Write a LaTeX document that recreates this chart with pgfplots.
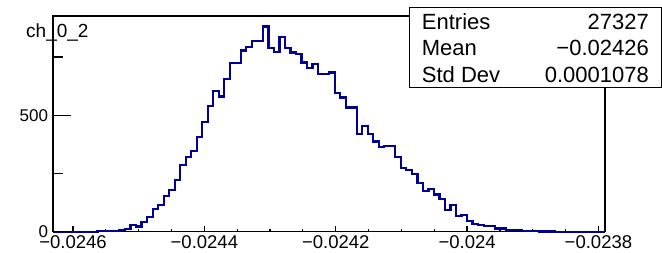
\documentclass[border=0pt]{standalone}
\usepackage{fontspec}
\setmainfont{Liberation Sans}
\usepackage{pgfplots}
\pgfplotsset{compat=1.18}
\definecolor{histblue}{RGB}{0,0,153}
\pgfplotstableread{
x count
-0.0246300 0
-0.0246216 0
-0.0246132 0
-0.0246048 0
-0.0245964 0
-0.0245880 0
-0.0245796 0
-0.0245712 0
-0.0245628 2
-0.0245544 3
-0.0245460 3
-0.0245376 4
-0.0245292 8
-0.0245208 10
-0.0245124 29
-0.0245040 22
-0.0244956 40
-0.0244872 64
-0.0244788 96
-0.0244704 115
-0.0244620 153
-0.0244536 179
-0.0244452 222
-0.0244368 286
-0.0244284 322
-0.0244200 348
-0.0244116 408
-0.0244032 470
-0.0243948 540
-0.0243864 604
-0.0243780 580
-0.0243696 656
-0.0243612 723
-0.0243528 723
-0.0243444 778
-0.0243360 792
-0.0243276 819
-0.0243192 819
-0.0243108 881
-0.0243024 790
-0.0242940 773
-0.0242856 835
-0.0242772 790
-0.0242688 769
-0.0242604 762
-0.0242520 726
-0.0242436 702
-0.0242352 719
-0.0242268 677
-0.0242184 677
-0.0242100 683
-0.0242016 595
-0.0241932 576
-0.0241848 533
-0.0241764 533
-0.0241680 420
-0.0241596 455
-0.0241512 420
-0.0241428 387
-0.0241344 365
-0.0241260 368
-0.0241176 368
-0.0241092 322
-0.0241008 272
-0.0240924 265
-0.0240840 248
-0.0240756 208
-0.0240672 176
-0.0240588 182
-0.0240504 160
-0.0240420 140
-0.0240336 93
-0.0240252 115
-0.0240168 69
-0.0240084 72
-0.0240000 47
-0.0239916 33
-0.0239832 29
-0.0239748 26
-0.0239664 26
-0.0239580 14
-0.0239496 14
-0.0239412 7
-0.0239328 7
-0.0239244 7
-0.0239160 3
-0.0239076 3
-0.0238992 3
-0.0238908 1
-0.0238824 1
-0.0238740 1
-0.0238656 0
-0.0238572 0
-0.0238488 0
-0.0238404 0
-0.0238320 0
-0.0238236 0
-0.0238152 0
-0.0238068 0
-0.0237984 0
-0.0237900 0
}\histdata
\begin{document}
\begin{tikzpicture}[x=1pt,y=1pt]
\path[use as bounding box] (0,0) rectangle (662,252);
\begin{axis}[
  at={(53.3pt,20.3pt)}, anchor=south west,
  scale only axis, width=551.7pt, height=215.7pt,
  xmin=-0.02463, xmax=-0.02379, ymin=0, ymax=926,
  axis line style={line width=1.6pt, black},
  xtick={-0.0246,-0.0244,-0.0242,-0.024,-0.0238},
  xticklabels={−0.0246,−0.0244,−0.0242,−0.024,−0.0238},
  minor xtick={-0.02455,-0.0245,-0.02445,-0.02435,-0.0243,-0.02425,-0.02415,-0.0241,-0.02405,-0.02395,-0.0239,-0.02385},
  ytick=\empty,
  xtick pos=left, tick align=inside,
  major tick length=6pt, minor tick length=3pt,
  tick style={line width=1.2pt, black},
  xticklabel style={font=\fontsize{18.5}{18.5}\selectfont, inner sep=0pt, anchor=north, yshift=-4pt},
  scaled x ticks=false,
  clip=false,
]
\addplot[const plot, draw=histblue, line width=2.2pt] table[x=x, y=count] {\histdata};
\end{axis}
\begin{axis}[
  at={(53.3pt,20.3pt)}, anchor=south west,
  scale only axis, width=551.7pt, height=215.7pt,
  xmin=-0.02463, xmax=-0.02379, ymin=0, ymax=926,
  axis line style={draw=none},
  xtick=\empty,
  ytick={0,500}, yticklabels={0,500},
  minor ytick={250,750},
  ytick pos=left, tick align=inside,
  major tick length=17.5pt, minor tick length=9.3pt,
  tick style={line width=1.2pt, black},
  yticklabel style={font=\fontsize{17}{17}\selectfont, inner sep=0pt, anchor=east, xshift=-5pt},
]
\end{axis}
\node[anchor=base west, inner sep=0pt, font=\fontsize{19}{19}\selectfont] at (26,214.7) {ch\_0\_2};
\draw[fill=white, draw=black, line width=1.4pt] (409.5,164.7) rectangle (661.3,244.7);
\node[anchor=west, inner sep=0pt, font=\fontsize{22}{22}\selectfont] at (421.7,230.3) {Entries};
\node[anchor=west, inner sep=0pt, font=\fontsize{22}{22}\selectfont] at (421.7,203.7) {Mean};
\node[anchor=west, inner sep=0pt, font=\fontsize{22}{22}\selectfont] at (421.7,177) {Std Dev};
\node[anchor=east, inner sep=0pt, font=\fontsize{22}{22}\selectfont] at (649,230.3) {27327};
\node[anchor=east, inner sep=0pt, font=\fontsize{22}{22}\selectfont] at (649,203.7) {−0.02426};
\node[anchor=east, inner sep=0pt, font=\fontsize{22}{22}\selectfont] at (649,177) {0.0001078};
\end{tikzpicture}
\end{document}
